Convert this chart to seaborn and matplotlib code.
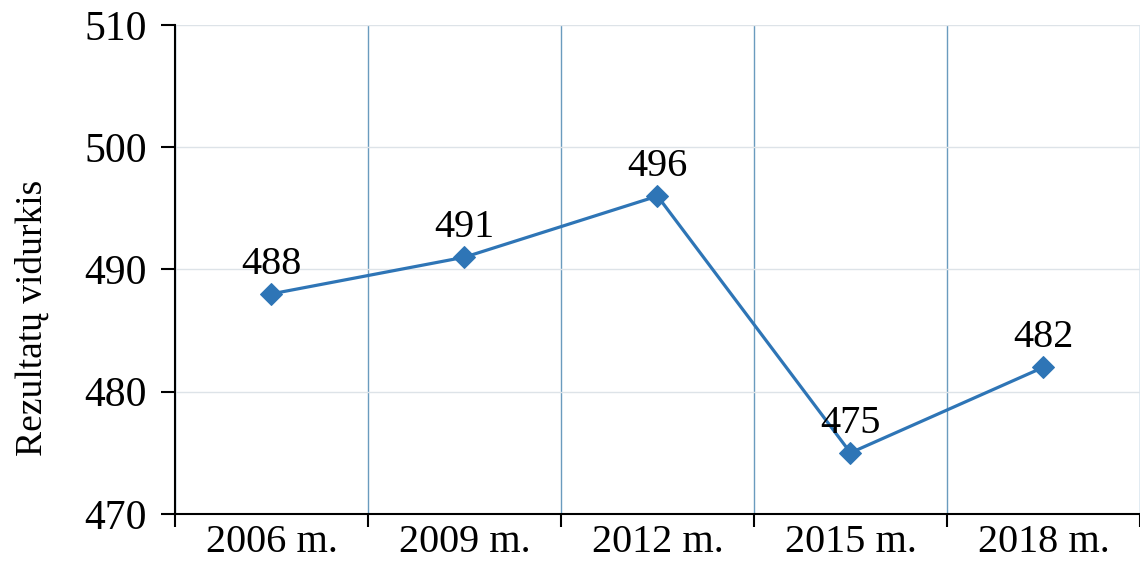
import matplotlib
matplotlib.use('Agg')
import matplotlib.pyplot as plt
import seaborn as sns
import pandas as pd
from matplotlib.ticker import FixedLocator

metai = ['2006 m.', '2009 m.', '2012 m.', '2015 m.', '2018 m.']
vidurkis = [488, 491, 496, 475, 482]

df = pd.DataFrame({'metai': metai, 'vidurkis': vidurkis})

sns.set_style('white')
plt.rcParams['font.family'] = ['Liberation Serif', 'DejaVu Serif']
plt.rcParams['text.color'] = 'black'
plt.rcParams['axes.labelcolor'] = 'black'
plt.rcParams['xtick.color'] = 'black'
plt.rcParams['ytick.color'] = 'black'

fig = plt.figure(figsize=(11.4, 5.66), dpi=100)
ax = fig.add_axes([0.1535, 0.092, 0.8465, 0.864])

spalva = '#2E75B6'
sns.lineplot(data=df, x='metai', y='vidurkis', ax=ax, color=spalva, linewidth=2.3,
             marker='D', markersize=11, markeredgecolor=spalva, sort=False)

for i, v in enumerate(vidurkis):
    ax.annotate(str(v), (i, v), xytext=(0, 8), textcoords='offset points',
                ha='center', va='bottom', fontsize=29, color='black')

ax.set_xlim(-0.5, len(metai) - 0.5)
ax.set_ylim(470, 510)
ax.set_yticks([470, 480, 490, 500, 510])
ax.yaxis.grid(True, color='#DDE3E8', linewidth=1)
ax.set_xticks(range(len(metai)))
ax.set_xticklabels(metai)
ax.xaxis.set_minor_locator(FixedLocator([k - 0.5 for k in range(len(metai) + 1)]))
ax.xaxis.grid(True, which='minor', color='#6A9BBE', linewidth=1)
ax.tick_params(axis='x', which='major', length=0, labelsize=29, pad=7)
ax.tick_params(axis='x', which='minor', length=9, width=1.5, color='black', direction='out', bottom=True)
ax.tick_params(axis='y', length=10, width=1.5, color='black', direction='out', left=True, labelsize=30, pad=10)

for s in ['top', 'right']:
    ax.spines[s].set_visible(False)
for s in ['left', 'bottom']:
    ax.spines[s].set_color('black')
    ax.spines[s].set_linewidth(1.5)

ax.set_xlabel('')
ax.set_ylabel('Rezultatų vidurkis', fontsize=27)
ax.yaxis.set_label_coords(-0.13, 0.4)

fig.savefig('out.png', dpi=100)
